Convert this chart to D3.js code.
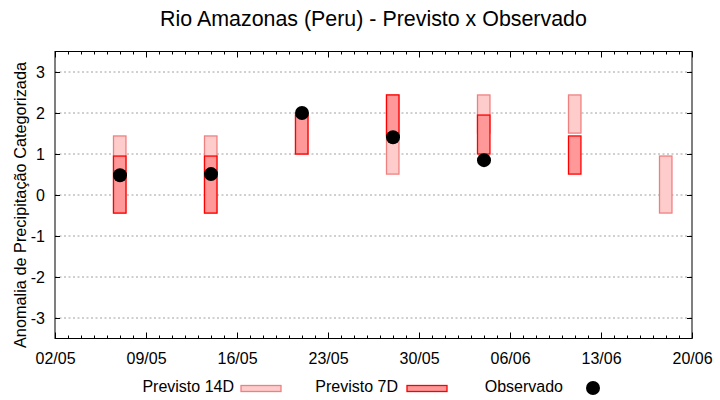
<!DOCTYPE html>
<html>
<head>
<meta charset="utf-8">
<script src="https://cdn.jsdelivr.net/npm/d3@7"></script>
<style>
  body { margin: 0; background: #fff; }
  svg { display: block; font-family: "Liberation Sans", Arial, sans-serif; }
  .grid line { stroke: #a0a0a0; stroke-dasharray: 2,2.5; }
</style>
</head>
<body>
<svg id="chart" width="720" height="400"></svg>
<script>
// semanas previstas
const dates = ["2024-05-07", "2024-05-14", "2024-05-21", "2024-05-28", "2024-06-04", "2024-06-11", "2024-06-18"];
const prev14Low = [-0.44, -0.44, 1.0, 0.51, 1.51, 1.51, -0.44];
const prev14High = [1.44, 1.44, 1.95, 2.44, 2.44, 2.44, 0.95];
const prev7Low = [-0.44, -0.44, 1.0, 1.44, 1.0, 0.51, null];
const prev7High = [0.95, 0.95, 1.95, 2.44, 1.95, 1.44, null];
const observed = [0.48, 0.51, 2.0, 1.41, 0.85, null, null];
const yTicks = [-3, -2, -1, 0, 1, 2, 3];
const xStart = "2024-05-02";
const xEnd = "2024-06-20";
const legendLabels = ["Previsto 14D", "Previsto 7D", "Observado"];

const parseDate = d3.utcParse("%Y-%m-%d");
const margin = { top: 51.5, right: 28, bottom: 61.5, left: 55 };
const width = 720, height = 400;
const barHalf = 0.47; // meia largura da barra em dias

const svg = d3.select("#chart");
const x = d3.scaleUtc()
  .domain([parseDate(xStart), parseDate(xEnd)])
  .range([margin.left, width - margin.right]);
const y = d3.scaleLinear()
  .domain([-3.5, 3.5])
  .range([height - margin.bottom, margin.top]);

/**
 * grade horizontal pontilhada
 */
function drawGrid() {
  svg.append("g")
    .attr("class", "grid")
    .selectAll("line")
    .data(yTicks)
    .enter()
    .append("line")
    .attr("x1", margin.left)
    .attr("x2", width - margin.right)
    .attr("y1", (d) => y(d))
    .attr("y2", (d) => y(d));
}

/**
 * eixos no estilo gnuplot (ticks para dentro, espelhados)
 */
function drawAxes() {
  const start = parseDate(xStart);
  const end = parseDate(xEnd);
  const major = d3.utcDay.range(start, d3.utcDay.offset(end, 1), 7);
  const minor = d3.utcDay.range(start, end);
  const fmt = d3.utcFormat("%d/%m");
  const plotH = height - margin.top - margin.bottom;
  const plotW = width - margin.left - margin.right;

  // minor ticks x (baixo e topo)
  svg.append("g")
    .attr("transform", `translate(0,${height - margin.bottom})`)
    .call(d3.axisBottom(x).tickValues(minor).tickSize(-3).tickFormat(""))
    .call((g) => g.select(".domain").remove());
  svg.append("g")
    .attr("transform", `translate(0,${margin.top})`)
    .call(d3.axisTop(x).tickValues(minor).tickSize(-3).tickFormat(""))
    .call((g) => g.select(".domain").remove());

  // major ticks x
  svg.append("g")
    .attr("transform", `translate(0,${height - margin.bottom})`)
    .call(d3.axisBottom(x).tickValues(major).tickSize(-6).tickPadding(14).tickFormat(fmt))
    .call((g) => g.select(".domain").remove())
    .call((g) => g.selectAll("text").attr("font-size", 16).attr("fill", "#000"));
  svg.append("g")
    .attr("transform", `translate(0,${margin.top})`)
    .call(d3.axisTop(x).tickValues(major).tickSize(-6).tickFormat(""))
    .call((g) => g.select(".domain").remove());

  // y
  svg.append("g")
    .attr("transform", `translate(${margin.left},0)`)
    .call(d3.axisLeft(y).tickValues(yTicks).tickSize(-5).tickPadding(10).tickFormat((d) => String(d)))
    .call((g) => g.select(".domain").remove())
    .call((g) => g.selectAll("text").attr("font-size", 16).attr("fill", "#000"));
  svg.append("g")
    .attr("transform", `translate(${width - margin.right},0)`)
    .call(d3.axisRight(y).tickValues(yTicks).tickSize(-5).tickFormat(""))
    .call((g) => g.select(".domain").remove());

  svg.selectAll(".tick line").attr("stroke", "#000");

  svg.append("rect")
    .attr("x", margin.left)
    .attr("y", margin.top)
    .attr("width", plotW)
    .attr("height", plotH)
    .attr("fill", "none")
    .attr("stroke", "#000")
    .attr("stroke-width", 1);
}

/**
 * barras de previsao (faixa low-high)
 */
function drawBars(lows, highs, fill, stroke) {
  const data = dates
    .map((d, i) => ({ date: parseDate(d), low: lows[i], high: highs[i] }))
    .filter((d) => d.low != null && d.high != null);
  svg.append("g")
    .selectAll("rect")
    .data(data)
    .enter()
    .append("rect")
    .attr("x", (d) => x(d3.utcHour.offset(d.date, -barHalf * 24)))
    .attr("width", (d) => x(d3.utcHour.offset(d.date, barHalf * 24)) - x(d3.utcHour.offset(d.date, -barHalf * 24)))
    .attr("y", (d) => y(d.high))
    .attr("height", (d) => y(d.low) - y(d.high))
    .attr("fill", fill)
    .attr("stroke", stroke)
    .attr("stroke-width", 1.3);
}

function drawObserved() {
  const data = dates
    .map((d, i) => ({ date: parseDate(d), value: observed[i] }))
    .filter((d) => d.value != null);
  svg.append("g")
    .selectAll("circle")
    .data(data)
    .enter()
    .append("circle")
    .attr("cx", (d) => x(d.date))
    .attr("cy", (d) => y(d.value))
    .attr("r", 7)
    .attr("fill", "#000");
}

function drawLabels() {
  svg.append("text")
    .attr("x", (margin.left + width - margin.right) / 2)
    .attr("y", 26)
    .attr("text-anchor", "middle")
    .attr("font-size", 21.4)
    .text("Rio Amazonas (Peru) - Previsto x Observado");

  svg.append("text")
    .attr("transform", "translate(25.5,205) rotate(-90)")
    .attr("text-anchor", "middle")
    .attr("font-size", 16.3)
    .text("Anomalia de Precipitação Categorizada");
}

function drawLegend() {
  const ends = [234, 398, 563];
  const g = svg.append("g").attr("font-size", 16);
  ends.forEach((ex, i) => {
    g.append("text")
      .attr("x", ex)
      .attr("y", 392)
      .attr("text-anchor", "end")
      .text(legendLabels[i]);
  });
  g.append("rect").attr("x", 241).attr("y", 385.5).attr("width", 40).attr("height", 6)
    .attr("fill", "#ffcccc").attr("stroke", "#f08080").attr("stroke-width", 1.3);
  g.append("rect").attr("x", 407).attr("y", 385.5).attr("width", 40).attr("height", 6)
    .attr("fill", "#ff9999").attr("stroke", "#ff0000").attr("stroke-width", 1.3);
  g.append("circle").attr("cx", 593).attr("cy", 388).attr("r", 7).attr("fill", "#000");
}

drawGrid();
drawBars(prev14Low, prev14High, "#ffcccc", "#f08080");
drawBars(prev7Low, prev7High, "#ff9999", "#ff0000");
drawObserved();
drawAxes();
drawLabels();
drawLegend();
</script>
</body>
</html>
